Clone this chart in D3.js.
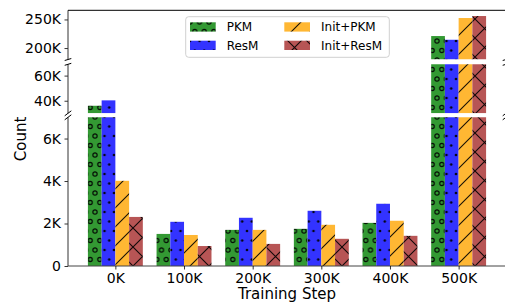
<!DOCTYPE html>
<html>
<head>
<meta charset="utf-8">
<script src="https://cdn.jsdelivr.net/npm/d3@7"></script>
<style>
  html, body { margin: 0; padding: 0; background: #fff; }
  svg { display: block; font-family: "DejaVu Sans", sans-serif; }
</style>
</head>
<body>
<svg id="chart" width="505" height="303"></svg>
<script>
// data (counts)
const steps = ["0K", "100K", "200K", "300K", "400K", "500K"];
const seriesNames = ["PKM", "ResM", "Init+PKM", "Init+ResM"];
const pkm = [36000, 1510, 1700, 1750, 2030, 221000];
const resm = [40300, 2080, 2270, 2600, 2930, 214500];
const initPkm = [4010, 1460, 1700, 1940, 2130, 252500];
const initResm = [2310, 940, 1040, 1280, 1420, 256000];
const topTicks = [200000, 250000];
const midTicks = [40000, 60000];
const lowTicks = [0, 2000, 4000, 6000];

const seriesValues = [pkm, resm, initPkm, initResm];
const colors = ["#339933", "#3333ff", "#ffb733", "#b75555"];
const hatches = ["circles", "dots", "slash", "cross"];

const svg = d3.select("#chart");
const left = 68, right = 506;

const x = d3.scaleLinear().domain([-0.69, 5.69]).range([left, right]);
const barW = x(0.2) - x(0);

// three stacked panels of the broken axis
const panels = [
  { name: "top", y: d3.scaleLinear().domain([180000, 266000]).range([59.5, 10.3]), ticks: topTicks },
  { name: "mid", y: d3.scaleLinear().domain([30000, 69000]).range([113.3, 64.3]), ticks: midTicks },
  { name: "low", y: d3.scaleLinear().domain([0, 7000]).range([266, 117.3]), ticks: lowTicks },
];

const fmt = (v) => (v === 0 ? "0" : `${v / 1000}K`);

// hatch patterns, anchored to the page like matplotlib does
const defs = svg.append("defs");
const hatchInk = "rgba(0,0,0,0.9)";
function makePattern(i) {
  const kind = hatches[i];
  const s = 9.5;
  const p = defs.append("pattern")
    .attr("id", "hatch-" + i)
    .attr("patternUnits", "userSpaceOnUse");
  if (kind === "circles" || kind === "dots") {
    p.attr("width", s).attr("height", s * 2);
    p.append("rect").attr("width", s).attr("height", s * 2).attr("fill", colors[i]);
    const pts = [[0, 0], [s, 0], [s / 2, s], [0, 2 * s], [s, 2 * s]];
    pts.forEach(([cx, cy]) => {
      const c = p.append("circle").attr("cx", cx).attr("cy", cy + 3);
      if (kind === "circles") {
        c.attr("r", 2.1).attr("fill", "none").attr("stroke", hatchInk).attr("stroke-width", 1.2);
      } else {
        c.attr("r", 1.3).attr("fill", hatchInk);
      }
    });
  } else {
    const t = 19;
    p.attr("width", t).attr("height", t);
    p.append("rect").attr("width", t).attr("height", t).attr("fill", colors[i]);
    let d = `M0,${t} L${t},0 M-2,2 L2,-2 M${t - 2},${t + 2} L${t + 2},${t - 2}`;
    if (kind === "cross") {
      d += ` M0,0 L${t},${t} M-2,${t - 2} L2,${t + 2} M${t - 2},-2 L${t + 2},2`;
    }
    p.append("path").attr("d", d).attr("stroke", hatchInk).attr("stroke-width", 1.1).attr("fill", "none");
  }
}
seriesNames.forEach((n, i) => makePattern(i));

// flatten bars
const bars = [];
steps.forEach((s, gi) => {
  seriesValues.forEach((vals, si) => {
    bars.push({ group: gi, series: si, value: vals[gi] });
  });
});

panels.forEach((pn) => {
  const [y0, y1] = pn.y.range();
  defs.append("clipPath").attr("id", "clip-" + pn.name)
    .append("rect")
    .attr("x", left).attr("y", y1)
    .attr("width", right - left).attr("height", y0 - y1);

  const g = svg.append("g").attr("clip-path", `url(#clip-${pn.name})`);
  g.selectAll("rect.bar")
    .data(bars.filter((d) => d.value > pn.y.domain()[0]))
    .join("rect")
    .attr("class", "bar")
    .attr("x", (d) => x(d.group - 0.4 + d.series * 0.2))
    .attr("width", barW)
    .attr("y", (d) => pn.y(d.value))
    .attr("height", (d) => y0 - pn.y(d.value))
    .attr("fill", (d) => `url(#hatch-${d.series})`);

  const ax = svg.append("g")
    .attr("transform", `translate(${left},0)`)
    .call(d3.axisLeft(pn.y).tickValues(pn.ticks).tickFormat(fmt).tickSizeOuter(0).tickSize(3.5).tickPadding(3.5));
  ax.select(".domain").remove();
  ax.selectAll(".tick line").attr("stroke", "#000").attr("stroke-width", 0.8);
  ax.selectAll(".tick text").attr("font-size", 14).attr("fill", "#000")
    .attr("font-family", "DejaVu Sans, sans-serif");

  // left spine (and right spine off to the side)
  svg.append("line").attr("x1", left).attr("x2", left).attr("y1", y1).attr("y2", y0)
    .attr("stroke", "#333").attr("stroke-width", 1);
  svg.append("line").attr("x1", right).attr("x2", right).attr("y1", y1).attr("y2", y0)
    .attr("stroke", "#333").attr("stroke-width", 1);
});

// top spine of upper panel, bottom spine of lower panel
svg.append("line").attr("x1", left).attr("x2", right)
  .attr("y1", panels[0].y.range()[1]).attr("y2", panels[0].y.range()[1])
  .attr("stroke", "#000").attr("stroke-width", 1);
svg.append("line").attr("x1", left).attr("x2", right)
  .attr("y1", 266).attr("y2", 266)
  .attr("stroke", "#444").attr("stroke-width", 1);

// break marks
const breaks = [
  { y: panels[0].y.range()[0], dy: 1 },
  { y: panels[1].y.range()[1], dy: 1 },
  { y: panels[1].y.range()[0], dy: 2.5 },
  { y: panels[2].y.range()[1], dy: 2.5 },
];
breaks.forEach((b) => {
  [left, right].forEach((bx) => {
    svg.append("line")
      .attr("x1", bx - 3.3).attr("y1", b.y + b.dy)
      .attr("x2", bx + 3.3).attr("y2", b.y - b.dy)
      .attr("stroke", "#000").attr("stroke-width", 1);
  });
});

// x axis
const xa = svg.append("g")
  .attr("transform", "translate(0,266)")
  .call(d3.axisBottom(x).tickValues(d3.range(steps.length)).tickFormat((i) => steps[i]).tickSizeOuter(0).tickSize(3.5).tickPadding(3.5));
xa.select(".domain").remove();
xa.selectAll(".tick line").attr("stroke", "#000").attr("stroke-width", 0.8);
xa.selectAll(".tick text").attr("font-size", 14).attr("fill", "#000")
  .attr("font-family", "DejaVu Sans, sans-serif");

// axis titles
svg.append("text")
  .attr("x", (left + right) / 2).attr("y", 298.5)
  .attr("text-anchor", "middle").attr("font-size", 15)
  .text("Training Step");
svg.append("text")
  .attr("transform", "translate(26,139) rotate(-90)")
  .attr("text-anchor", "middle").attr("font-size", 15)
  .text("Count");

// legend
const legend = svg.append("g");
legend.append("rect")
  .attr("x", 185.7).attr("y", 16.7)
  .attr("width", 203.6).attr("height", 40.6)
  .attr("rx", 3)
  .attr("fill", "rgba(255,255,255,0.8)")
  .attr("stroke", "#d0d0d0").attr("stroke-width", 1);
const lx = [190, 284.3];
const ly = [22.3, 40.7];
seriesNames.forEach((name, i) => {
  const col = Math.floor(i / 2), row = i % 2;
  legend.append("rect")
    .attr("x", lx[col]).attr("y", ly[row])
    .attr("width", 25.7).attr("height", 9.3)
    .attr("fill", `url(#hatch-${i})`);
  legend.append("text")
    .attr("x", lx[col] + 36.7).attr("y", ly[row] + 4.65)
    .attr("dy", "0.35em")
    .attr("font-size", 12).attr("fill", "#000")
    .text(name);
});
</script>
</body>
</html>
